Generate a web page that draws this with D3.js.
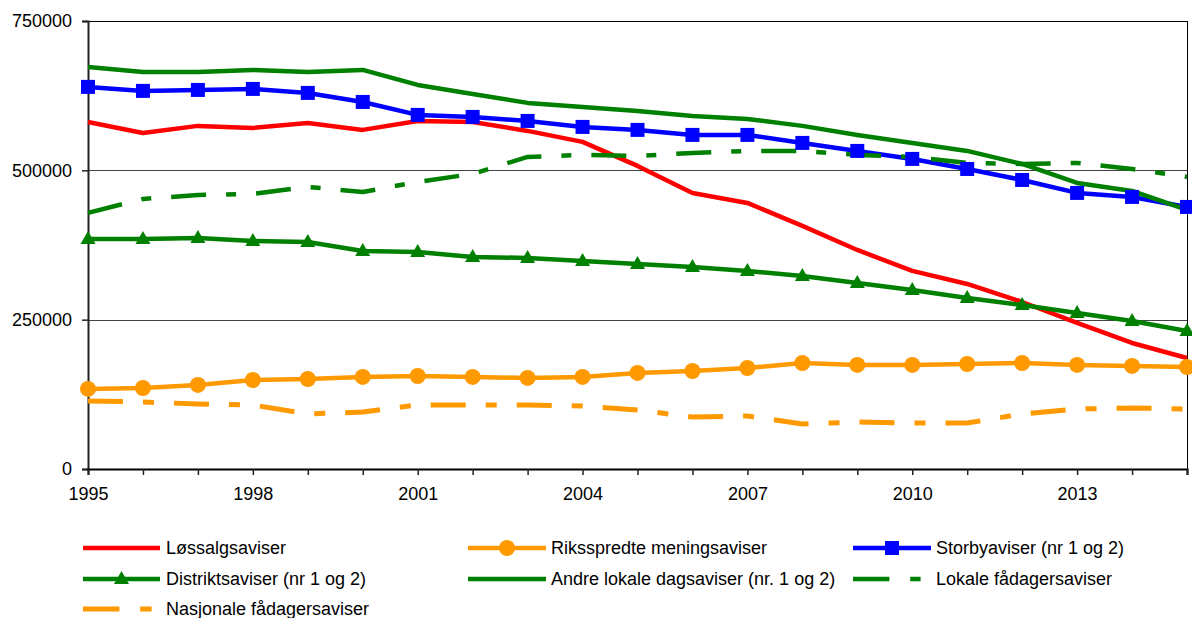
<!DOCTYPE html>
<html><head><meta charset="utf-8">
<script src="https://cdn.jsdelivr.net/npm/d3@7/dist/d3.min.js"></script>
<style>
html,body{margin:0;padding:0;background:#fff;}
svg{display:block;font-family:"Liberation Sans",Arial,sans-serif;}
</style></head>
<body><svg id="c" width="1192" height="618"></svg>
<script>
const years = [1995,1996,1997,1998,1999,2000,2001,2002,2003,2004,2005,2006,2007,2008,2009,2010,2011,2012,2013,2014,2015];
const xTickLabels = ["1995","1998","2001","2004","2007","2010","2013"];
const yTickValues = [0,250000,500000,750000];

const lossalg = [581000,562600,574400,571000,579400,567700,582700,581000,566000,547600,507400,462200,445400,406900,366700,331600,309800,279600,244500,211000,185900];
const riksspredte = [134000,135600,140700,149000,150700,154100,155700,154100,152400,154100,160800,164100,169100,177500,174200,174200,175800,177500,174200,172500,170800];
const storby = [639700,633000,634600,636300,629600,614500,592800,589400,582700,572700,567700,559300,559300,545900,532500,519100,502300,483900,462200,455500,438700];
const distrikt = [385100,385100,386800,381800,380100,365000,363400,355000,353300,348300,343300,338200,331600,323200,311500,299700,286300,274600,261200,247800,231100];
const andreLokale = [673100,664800,664800,668100,664800,668100,643000,627900,612900,606200,599500,591100,586100,574400,559300,545900,532500,510700,478900,465500,433700];
const lokaleFadager = [428700,452100,458800,460500,472200,463800,480600,494000,522400,525800,524100,529100,532500,532500,525800,522400,512400,510700,512400,502300,489000];
const nasjonaleFadager = [113900,112200,108800,107200,92100,95400,107200,107200,107200,105500,98800,87100,88700,75400,78700,77000,77000,92100,100500,102100,100500];

const seriesNames = ["Løssalgsaviser","Riksspredte meningsaviser","Storbyaviser (nr 1 og 2)","Distriktsaviser (nr 1 og 2)","Andre lokale dagsaviser (nr. 1 og 2)","Lokale fådagersaviser","Nasjonale fådagersaviser"];

const series = [
  {name:seriesNames[0], values:lossalg, color:"#FF0000", marker:null, dash:null, w:4.5},
  {name:seriesNames[1], values:riksspredte, color:"#FF9900", marker:"circle", dash:null, w:4.5},
  {name:seriesNames[2], values:storby, color:"#0000FF", marker:"square", dash:null, w:4.5},
  {name:seriesNames[3], values:distrikt, color:"#008000", marker:"triangle", dash:null, w:4.5},
  {name:seriesNames[4], values:andreLokale, color:"#008000", marker:null, dash:null, w:4.5},
  {name:seriesNames[5], values:lokaleFadager, color:"#008000", marker:null, dash:[35,20,10,20], w:4.5},
  {name:seriesNames[6], values:nasjonaleFadager, color:"#FF9900", marker:null, dash:[35,20,11,20], w:5}
];

const svg = d3.select("#c");
const L=88, R=1187, T=21, B=469;
const x = d3.scaleLinear().domain([1995,2015]).range([L,R]);
const y = d3.scaleLinear().domain([0,750000]).range([B,T]);

// gridlines
svg.append("g").selectAll("line").data(yTickValues.filter(v=>v>0)).join("line")
  .attr("x1",L).attr("x2",R).attr("y1",d=>Math.round(y(d))+0.5).attr("y2",d=>Math.round(y(d))+0.5)
  .attr("stroke",d=>d===750000?"#000":"#444").attr("stroke-width",1);
// right border
svg.append("line").attr("x1",R+0.5).attr("x2",R+0.5).attr("y1",T).attr("y2",B).attr("stroke","#000").attr("stroke-width",1);

// y axis
const yAxis = d3.axisLeft(y).tickValues(yTickValues).tickFormat(d3.format("d")).tickSize(6).tickPadding(10);
const gy = svg.append("g").attr("transform",`translate(${L},0)`).call(yAxis);
gy.select(".domain").attr("stroke","#222").attr("stroke-width",2);
gy.selectAll(".tick line").attr("stroke","#222").attr("stroke-width",1.5);
gy.selectAll(".tick text").attr("font-size",18).attr("font-family","Liberation Sans, Arial, sans-serif").attr("fill","#000");

// x axis
const xAxis = d3.axisBottom(x).tickValues(years).tickSize(6).tickPadding(12)
  .tickFormat(d=> xTickLabels.includes(String(d)) ? String(d) : "");
const gx = svg.append("g").attr("transform",`translate(0,${B})`).call(xAxis);
gx.select(".domain").attr("stroke","#000").attr("stroke-width",2);
gx.selectAll(".tick line").attr("stroke","#222").attr("stroke-width",1.5);
gx.selectAll(".tick text").attr("font-size",18).attr("font-family","Liberation Sans, Arial, sans-serif").attr("fill","#000");

const line = d3.line().x((d,i)=>x(years[i])).y(d=>y(d));

function drawMarker(g, type, cx, cy, color){
  if(type==="circle") g.append("circle").attr("cx",cx).attr("cy",cy).attr("r",8).attr("fill",color);
  else if(type==="square") g.append("rect").attr("x",cx-7).attr("y",cy-7).attr("width",14).attr("height",14).attr("fill",color);
  else if(type==="triangle") g.append("path").attr("d",`M${cx},${cy-8}L${cx+7.5},${cy+5}L${cx-7.5},${cy+5}Z`).attr("fill",color);
}

const gl = svg.append("g");
series.forEach(s=>{
  const p = gl.append("path").datum(s.values).attr("d",line).attr("fill","none")
    .attr("stroke",s.color).attr("stroke-width",s.w).attr("stroke-linejoin","round");
  if(s.dash) p.attr("stroke-dasharray",s.dash.join(","));
});
series.forEach(s=>{
  if(!s.marker) return;
  const g = gl.append("g");
  s.values.forEach((v,i)=>drawMarker(g,s.marker,x(years[i]),y(v),s.color));
});

// legend
const legPos = [
  {x1:83,x2:160,tx:166,cy:548},
  {x1:468,x2:546,tx:551,cy:548},
  {x1:853,x2:931,tx:936,cy:548},
  {x1:83,x2:160,tx:166,cy:579},
  {x1:468,x2:546,tx:551,cy:579},
  {x1:853,x2:931,tx:936,cy:579},
  {x1:83,x2:160,tx:166,cy:609}
];
const lg = svg.append("g");
series.forEach((s,i)=>{
  const p = legPos[i];
  const ln = lg.append("line").attr("x1",p.x1).attr("x2",p.x2).attr("y1",p.cy).attr("y2",p.cy)
    .attr("stroke",s.color).attr("stroke-width",s.w);
  if(s.dash){
    ln.attr("stroke-dasharray",s.dash.map(v=>v*1.04).join(","));
  }
  if(s.marker) drawMarker(lg,s.marker,(p.x1+p.x2)/2,p.cy,s.color);
  lg.append("text").attr("x",p.tx).attr("y",p.cy).attr("dy","0.36em").attr("font-size",18).attr("fill","#000").text(s.name);
});
</script></body></html>
